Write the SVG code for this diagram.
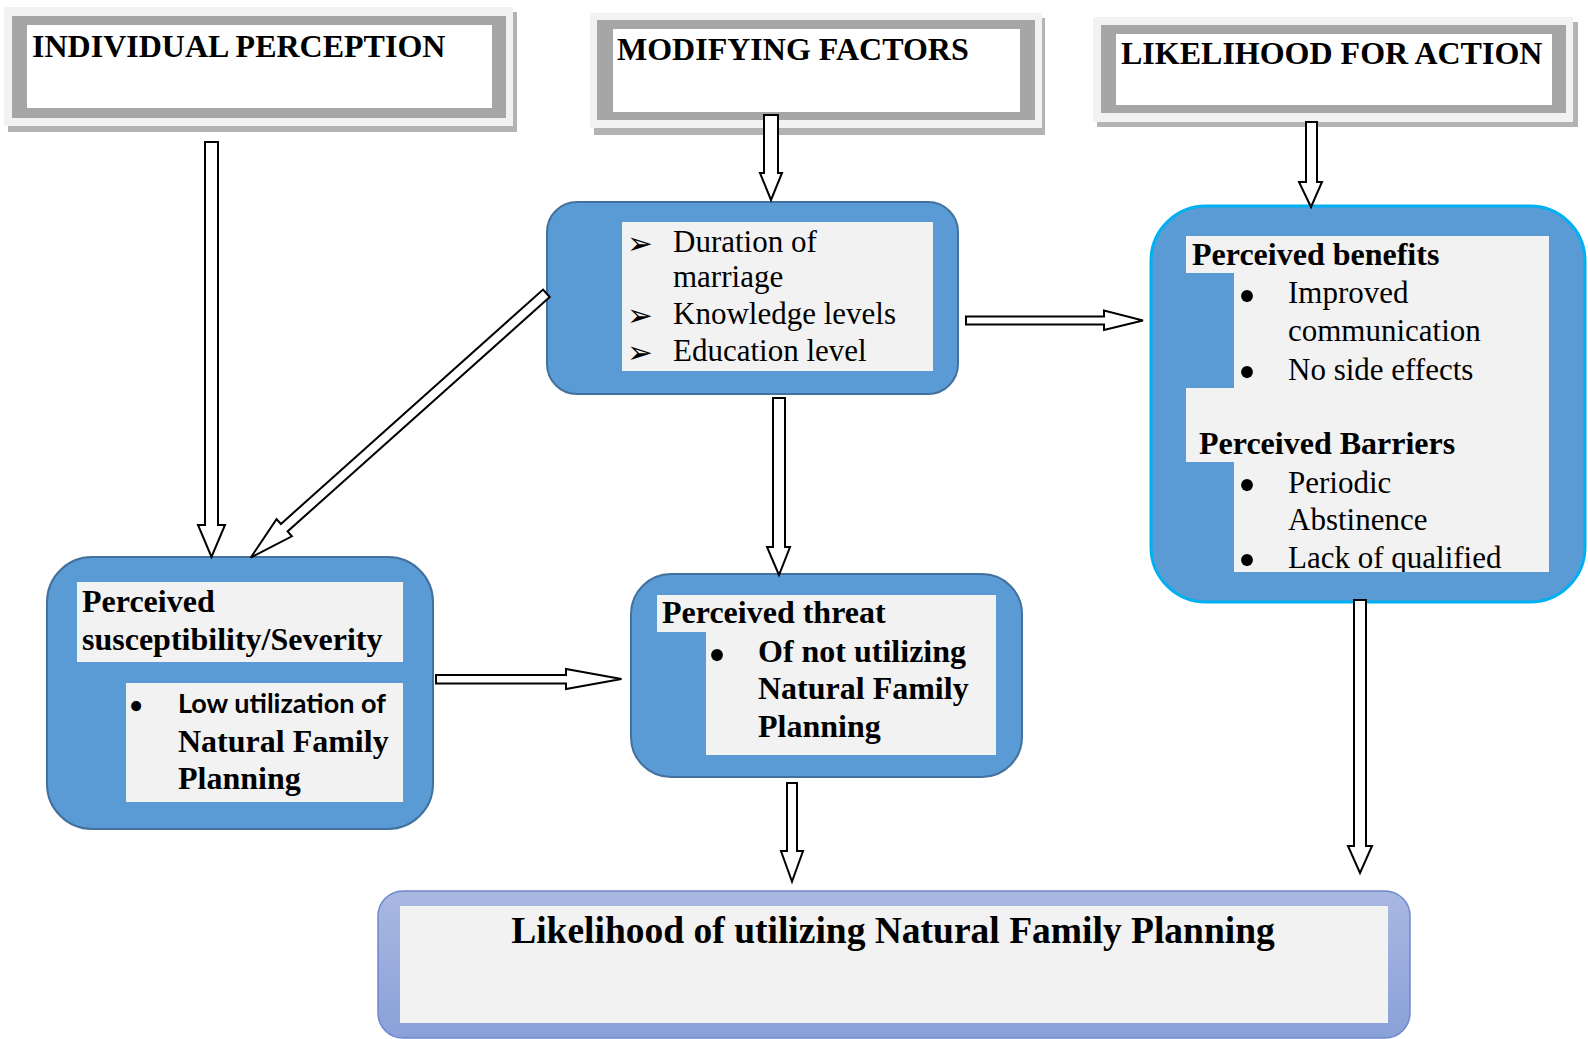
<svg xmlns="http://www.w3.org/2000/svg" width="1588" height="1039" viewBox="0 0 1588 1039">
<style>
.hd{font-family:"Liberation Serif","Times New Roman",serif;font-weight:bold;font-size:32px;fill:#000}
.tx{font-family:"Liberation Serif","Times New Roman",serif;font-size:31px;fill:#000}
.bd{font-family:"Liberation Serif","Times New Roman",serif;font-weight:bold;font-size:32px;fill:#000}
.sn{font-family:Lato,"Open Sans",sans-serif;font-weight:bold;font-size:27px;fill:#000}
.ar{font-family:"DejaVu Sans",sans-serif;font-size:31px;fill:#000}
.bu{font-family:"Liberation Serif","Times New Roman",serif;font-size:50px;fill:#000}
.node{fill:#5b9bd5;stroke:#41719c;stroke-width:2}
.inner{fill:#f2f2f2}
.arrow{fill:#fff;stroke:#000;stroke-width:2;stroke-linejoin:miter}
.hshadow{fill:#b3b3b3}
.hlight{fill:#f2f2f2}
.hgray{fill:#a6a6a6}
.hwhite{fill:#fff}
</style>
<defs>
<linearGradient id="bg" x1="0" y1="0" x2="0" y2="1">
<stop offset="0" stop-color="#a9b8e1"/>
<stop offset="1" stop-color="#8aa1d8"/>
</linearGradient>
<clipPath id="rclip"><rect x="1180" y="230" width="380" height="342"/></clipPath>
</defs>
<rect width="1588" height="1039" fill="#fff"/>

<g id="header-individual">
<rect class="hshadow" x="8" y="12" width="509" height="120"/>
<rect class="hlight" x="4" y="7" width="509" height="119"/>
<rect class="hgray" x="12" y="16" width="494" height="102"/>
<rect class="hwhite" x="27" y="25" width="465" height="83"/>
<text class="hd" x="32" y="57">INDIVIDUAL PERCEPTION</text>
</g>

<g id="header-modifying">
<rect class="hshadow" x="594" y="18" width="451" height="117"/>
<rect class="hlight" x="590" y="13" width="452" height="115"/>
<rect class="hgray" x="597" y="20" width="438" height="100"/>
<rect class="hwhite" x="613" y="29" width="407" height="83"/>
<text class="hd" x="617" y="60">MODIFYING FACTORS</text>
</g>

<g id="header-likelihood">
<rect class="hshadow" x="1097" y="22" width="481" height="105"/>
<rect class="hlight" x="1093" y="17" width="480" height="105"/>
<rect class="hgray" x="1101" y="25" width="465" height="88"/>
<rect class="hwhite" x="1116" y="34" width="436" height="71"/>
<text class="hd" x="1121" y="64">LIKELIHOOD FOR ACTION</text>
</g>

<g id="node-modifying">
<rect class="node" x="547" y="202" width="411" height="192" rx="30"/>
<rect class="inner" x="622" y="222" width="311" height="149"/>
<text class="ar" x="627" y="254">➢</text>
<text class="tx" x="673" y="252">Duration of</text>
<text class="tx" x="673" y="287">marriage</text>
<text class="ar" x="627" y="326">➢</text>
<text class="tx" x="673" y="324">Knowledge levels</text>
<text class="ar" x="627" y="363">➢</text>
<text class="tx" x="673" y="361">Education level</text>
</g>

<g id="node-action">
<rect x="1151" y="206" width="434" height="396" rx="55" fill="#5b9bd5" stroke="#00b0f0" stroke-width="3"/>
<polygon class="inner" points="1186,236 1549,236 1549,572 1234,572 1234,462 1186,462 1186,388 1234,388 1234,273 1186,273"/>
<g clip-path="url(#rclip)">
<text class="bd" x="1192" y="265">Perceived benefits</text>
<text class="tx" x="1288" y="303">Improved</text>
<text class="tx" x="1288" y="341">communication</text>
<text class="tx" x="1288" y="380">No side effects</text>
<text class="bd" x="1199" y="454">Perceived Barriers</text>
<text class="tx" x="1288" y="493">Periodic</text>
<text class="tx" x="1288" y="530">Abstinence</text>
<text class="tx" x="1288" y="568">Lack of qualified</text>
</g>
<text class="bu" x="1247" y="313" text-anchor="middle">•</text>
<text class="bu" x="1247" y="389" text-anchor="middle">•</text>
<text class="bu" x="1247" y="502" text-anchor="middle">•</text>
<text class="bu" x="1247" y="577" text-anchor="middle">•</text>
</g>

<g id="node-susceptibility">
<rect class="node" x="47" y="557" width="386" height="272" rx="45"/>
<rect class="inner" x="77" y="582" width="326" height="80"/>
<text class="bd" x="82" y="612">Perceived</text>
<text class="bd" x="82" y="650">susceptibility/Severity</text>
<rect class="inner" x="126" y="683" width="277" height="119"/>
<text class="bu" x="136" y="720" text-anchor="middle" style="font-size:42px">•</text>
<text class="sn" x="178" y="713">Low utilization of</text>
<text class="bd" x="178" y="752">Natural Family</text>
<text class="bd" x="178" y="789">Planning</text>
</g>

<g id="node-threat">
<rect class="node" x="631" y="574" width="391" height="203" rx="40"/>
<polygon class="inner" points="657,595 996,595 996,755 706,755 706,632 657,632"/>
<text class="bd" x="662" y="623">Perceived threat</text>
<text class="bu" x="717" y="672" text-anchor="middle">•</text>
<text class="bd" x="758" y="662">Of not utilizing</text>
<text class="bd" x="758" y="699">Natural Family</text>
<text class="bd" x="758" y="737">Planning</text>
</g>

<g id="node-outcome">
<rect x="378" y="891" width="1032" height="147" rx="25" fill="url(#bg)" stroke="#6d88cf" stroke-width="1.5"/>
<rect class="inner" x="400" y="906" width="988" height="117"/>
<text class="bd" x="893" y="943" text-anchor="middle" style="font-size:37.5px">Likelihood of utilizing Natural Family Planning</text>
</g>

<g id="connectors">
<polygon class="arrow" points="205,142 218,142 218,525 225,525 211.5,557 198,525 205,525"/>
<polygon class="arrow" points="764,115 778,115 778,173 782,173 771,200 760,173 764,173"/>
<polygon class="arrow" points="1306,122 1317,122 1317,182 1322,182 1311,207 1299,182 1306,182"/>
<polygon class="arrow" points="966,316.5 1104,316.5 1104,310.5 1143,320.5 1104,330 1104,324.5 966,324.5"/>
<polygon class="arrow" points="436,675 566,675 566,669 621.5,679 566,689 566,683.5 436,683.5"/>
<polygon class="arrow" points="787,783 797,783 797,851 803,851 792,881.5 781,851 787,851"/>
<polygon class="arrow" points="773,398 785,398 785,547 790,547 779,575 767,547 773,547"/>
<polygon class="arrow" points="1354,600 1366,600 1366,846 1372,846 1360,873 1348,846 1354,846"/>
<polygon class="arrow" transform="translate(546.4,293.3) rotate(138.2)" points="0,-5 351.7,-5 351.7,-11.5 396.7,0 351.7,11.5 351.7,5 0,5"/>
</g>
</svg>
